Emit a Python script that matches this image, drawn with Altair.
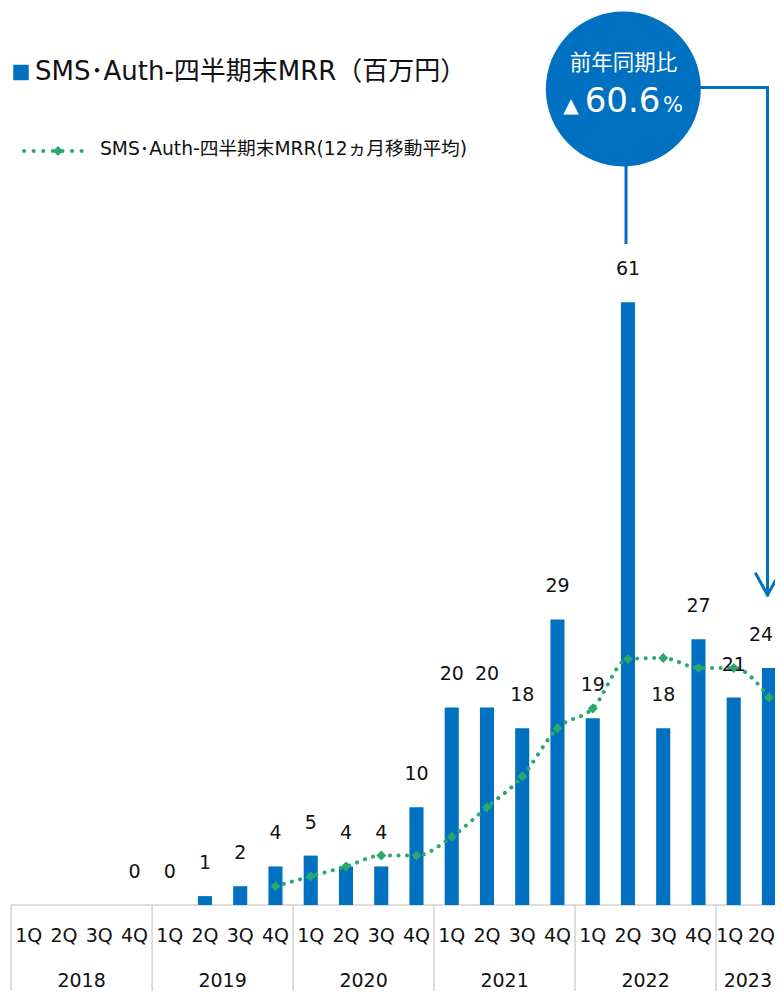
import altair as alt
import pandas as pd

# ---------------- data ----------------
YEARS = ["2018", "2019", "2020", "2021", "2022", "2023"]
QUARTERS = ["1Q", "2Q", "3Q", "4Q"]
PERIODS = [f"{y}-{q}" for y in YEARS for q in QUARTERS][:22]

MRR = [None, None, None, 0, 0, 0.9, 1.9, 3.9, 5.0, 3.9, 3.9, 9.9,
       20.0, 20.0, 17.9, 28.9, 18.9, 61.0, 17.9, 26.9, 21.0, 24.0]
MRR_LABELS = ["", "", "", "0", "0", "1", "2", "4", "5", "4", "4", "10",
              "20", "20", "18", "29", "19", "61", "18", "27", "21", "24"]
MA12 = [None, None, None, None, None, None, None, 1.9, 2.9, 3.9, 5.0, 5.0,
        6.9, 9.9, 13.0, 17.9, 19.9, 24.9, 25.0, 24.0, 24.0, 21.0]

YEAR_START = ["2018-1Q", "2019-1Q", "2020-1Q", "2021-1Q", "2022-1Q", "2023-1Q"]
YEAR_ANCHOR = ["2018-2Q", "2019-2Q", "2020-2Q", "2021-2Q", "2022-2Q", "2023-1Q"]

LEGEND_BAR = "SMS･Auth-四半期末MRR（百万円）"
LEGEND_LINE = "SMS･Auth-四半期末MRR(12ヵ月移動平均)"
YOY_TITLE = "前年同期比"
YOY_ARROW = "▲"
YOY_VALUE = "60.6"
YOY_UNIT = "%"

BLUE = "#0070C0"
GREEN = "#2BA86E"
GRAY = "#d3d3d3"
FONT = "DejaVu Sans, Noto Sans CJK JP, sans-serif"

W = 767
H = 983
LAST = PERIODS[-1]
PREV = PERIODS[-2]
LAST_YEAR = YEARS[-1]
df = pd.DataFrame({
    "period": PERIODS,
    "quarter": [p.split("-")[1] for p in PERIODS],
    "mrr": MRR,
    "label": MRR_LABELS,
    "ma": MA12,
})
bars_df = df[df["mrr"].notna()].copy()
ma_df = df[df["ma"].notna()].copy()
years_df = pd.DataFrame({"year": YEARS, "start": YEAR_START, "anchor": YEAR_ANCHOR})
one = pd.DataFrame({"k": [0]})

xscale = alt.Scale(domain=PERIODS, range=[3.1, 778.6], paddingInner=0, paddingOuter=0)
# 0 sits at y=897, 9.88 px per unit
yscale = alt.Scale(domain=[-(H - 897) / 9.88, 897 / 9.88], nice=False, zero=False)

X = alt.X("period:N", scale=xscale, axis=None)
YM = alt.Y("mrr:Q", scale=yscale, axis=None)
YA = alt.Y("ma:Q", scale=yscale, axis=None)

bars = alt.Chart(bars_df).mark_bar(color=BLUE, width=alt.RelativeBandSize(0.4)).encode(
    x=X, y=YM, y2=alt.datum(0)
)
label_style = dict(fontSize=19, font=FONT, color="#111111", baseline="middle")
labels = alt.Chart(bars_df[bars_df["period"] != LAST]).mark_text(dy=-33, **label_style).encode(
    x=X, y=YM, text="label:N")
labels_edge = alt.Chart(bars_df[bars_df["period"] == LAST]).mark_text(dy=-33, dx=-8, **label_style).encode(
    x=X, y=YM, text="label:N")

ma_line = alt.Chart(ma_df).mark_line(
    color=GREEN, strokeWidth=4, strokeDash=[0.1, 8.4], strokeCap="round", interpolate="monotone"
).encode(x=X, y=YA)
ma_pts = alt.Chart(ma_df).mark_point(
    shape="diamond", filled=True, size=100, color=GREEN, opacity=1
).encode(x=X, y=YA)

# category "table" axis
baseline = alt.Chart(one).mark_rule(color=GRAY, strokeWidth=1.5).encode(
    x=alt.value(3.1), x2=alt.value(790), y=alt.value(897)
)
separators = alt.Chart(years_df).mark_rule(color=GRAY, strokeWidth=1.5).encode(
    x=alt.X("start:N", scale=xscale, axis=None, bandPosition=0),
    y=alt.value(897), y2=alt.value(1000)
)
qlabels = alt.Chart(df[~df["period"].isin([LAST, PREV])]).mark_text(**label_style).encode(
    x=X, y=alt.value(928), text="quarter:N")
qlabels_prev = alt.Chart(df[df["period"] == PREV]).mark_text(dx=-4, **label_style).encode(
    x=X, y=alt.value(928), text="quarter:N")
qlabels_edge = alt.Chart(df[df["period"] == LAST]).mark_text(dx=-7.5, **label_style).encode(
    x=X, y=alt.value(928), text="quarter:N")
ylabels = alt.Chart(years_df[years_df["year"] != LAST_YEAR]).mark_text(**label_style).encode(
    x=alt.X("anchor:N", scale=xscale, axis=None, bandPosition=1),
    y=alt.value(972.5), text="year:N"
)
ylabels_edge = alt.Chart(years_df[years_df["year"] == LAST_YEAR]).mark_text(dx=-3.5, **label_style).encode(
    x=alt.X("anchor:N", scale=xscale, axis=None, bandPosition=1),
    y=alt.value(972.5), text="year:N"
)

# legend
leg_sq = alt.Chart(one).mark_point(shape="square", filled=True, size=240, color=BLUE, opacity=1).encode(
    x=alt.value(13), y=alt.value(64.5)
)
leg_txt1 = alt.Chart(one).mark_text(
    fontSize=26, font=FONT, color="#111111", align="left", baseline="alphabetic", text=LEGEND_BAR
).encode(x=alt.value(27), y=alt.value(72))
leg_line = alt.Chart(one).mark_rule(
    color=GREEN, strokeWidth=4, strokeDash=[0.1, 9.5], strokeCap="round"
).encode(x=alt.value(16), x2=alt.value(78), y=alt.value(143))
leg_dia = alt.Chart(one).mark_point(shape="diamond", filled=True, size=100, color=GREEN, opacity=1).encode(
    x=alt.value(50), y=alt.value(143)
)
leg_txt2 = alt.Chart(one).mark_text(
    fontSize=18.7, font=FONT, color="#111111", align="left", baseline="alphabetic", text=LEGEND_LINE
).encode(x=alt.value(92), y=alt.value(147))

# YoY callout
circle = alt.Chart(one).mark_point(
    shape="circle", filled=True, size=24025, color=BLUE, opacity=1, strokeWidth=0
).encode(x=alt.value(615.3), y=alt.value(81))
t_title = alt.Chart(one).mark_text(fontSize=21.5, font=FONT, color="white", baseline="middle",
                                   text=YOY_TITLE).encode(x=alt.value(615.5), y=alt.value(55.5))
t_arrow = alt.Chart(one).mark_text(fontSize=20, font=FONT, color="white", baseline="alphabetic",
                                   text=YOY_ARROW).encode(x=alt.value(563), y=alt.value(104))
t_val = alt.Chart(one).mark_text(fontSize=34, font=FONT, color="white", baseline="alphabetic",
                                 text=YOY_VALUE).encode(x=alt.value(614.5), y=alt.value(104))
t_unit = alt.Chart(one).mark_text(fontSize=21, font=FONT, color="white", baseline="alphabetic",
                                  text=YOY_UNIT).encode(x=alt.value(665), y=alt.value(104))


def seg(x1, y1, x2, y2):
    return alt.Chart(one).mark_rule(color=BLUE, strokeWidth=3, strokeCap="square").encode(
        x=alt.value(x1), y=alt.value(y1), x2=alt.value(x2), y2=alt.value(y2)
    )


callout = [
    seg(618, 150, 618, 234.5),
    seg(690, 79.5, 759.5, 79.5),
    seg(759.5, 79.5, 759.5, 586),
    seg(748, 566, 759.5, 587),
    seg(771, 566, 759.5, 587),
]

chart = alt.layer(
    baseline, separators, bars, ma_line, ma_pts, labels, labels_edge,
    qlabels, qlabels_prev, qlabels_edge, ylabels, ylabels_edge,
    leg_sq, leg_txt1, leg_line, leg_dia, leg_txt2,
    *callout, circle, t_title, t_arrow, t_val, t_unit,
).properties(
    width=W, height=H,
    autosize=alt.AutoSizeParams(type="none"),
    padding={"left": 0, "right": 0, "top": 0, "bottom": 0},
    background="white",
).configure_view(stroke=None)

chart.save("out.html", embed_options={"renderer": "svg", "actions": False})
